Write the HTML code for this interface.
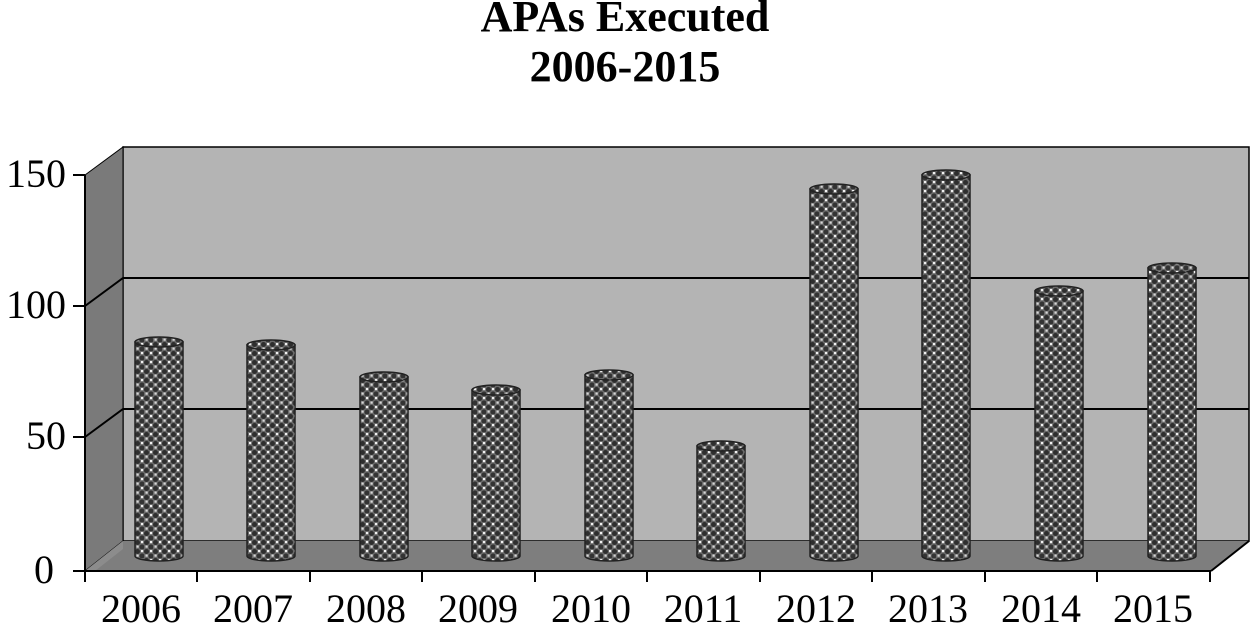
<!DOCTYPE html>
<html><head><style>html,body{margin:0;padding:0;background:#fff}svg{display:block}</style></head>
<body>
<svg width="1250" height="625" viewBox="0 0 1250 625" xmlns="http://www.w3.org/2000/svg" font-family="Liberation Serif, serif">
<defs>
<pattern id="dots" width="9" height="9" patternUnits="userSpaceOnUse">
<rect width="9" height="9" fill="#6a6a6a"/>
<circle cx="2.5" cy="2.5" r="2.5" fill="#2e2e2e"/>
<circle cx="7" cy="7" r="2.5" fill="#333"/>
<rect x="6" y="1" width="2.2" height="2.2" fill="#f0f0f0"/>
<rect x="1.5" y="5.5" width="2.2" height="2.2" fill="#d8d8d8"/>
</pattern>
</defs>
<text x="625" y="31" text-anchor="middle" font-size="44" font-weight="bold">APAs Executed</text>
<text x="625" y="81" text-anchor="middle" font-size="44" font-weight="bold">2006-2015</text>
<rect x="123" y="147" width="1126" height="394" fill="#b4b4b4" stroke="#000" stroke-width="1.5"/>
<polygon points="85,175 123,147 123,541 85,571" fill="#7a7a7a" stroke="#000" stroke-width="1"/>
<polygon points="85,571 123,541 1249,541 1211,571" fill="#7e7e7e"/>
<polygon points="85,571 123,541 123,549 95,571" fill="#8c8c8c"/>
<polyline points="85,306 123,278 1249,278" fill="none" stroke="#000" stroke-width="2"/>
<polyline points="85,437 123,409 1249,409" fill="none" stroke="#000" stroke-width="2"/>
<line x1="1249" y1="541" x2="1211" y2="571" stroke="#000" stroke-width="2"/>
<line x1="85" y1="175" x2="85" y2="571" stroke="#000" stroke-width="2"/>
<line x1="73" y1="571" x2="1211" y2="571" stroke="#000" stroke-width="2"/>
<g stroke="#000" stroke-width="2">
<line x1="73" y1="175" x2="85" y2="175"/><line x1="73" y1="306" x2="85" y2="306"/><line x1="73" y1="437" x2="85" y2="437"/>
<line x1="85" y1="571" x2="85" y2="582"/><line x1="197" y1="571" x2="197" y2="582"/><line x1="310" y1="571" x2="310" y2="582"/><line x1="422" y1="571" x2="422" y2="582"/><line x1="535" y1="571" x2="535" y2="582"/><line x1="647" y1="571" x2="647" y2="582"/><line x1="760" y1="571" x2="760" y2="582"/><line x1="872" y1="571" x2="872" y2="582"/><line x1="985" y1="571" x2="985" y2="582"/><line x1="1097" y1="571" x2="1097" y2="582"/><line x1="1210" y1="571" x2="1210" y2="582"/>
</g>
<g font-size="40" text-anchor="end">
<text x="66" y="187">150</text><text x="66" y="318">100</text><text x="66" y="449">50</text><text x="54" y="583">0</text>
</g>
<g font-size="40" text-anchor="middle">
<text x="141" y="622">2006</text><text x="253" y="622">2007</text><text x="366" y="622">2008</text><text x="478" y="622">2009</text><text x="591" y="622">2010</text><text x="703" y="622">2011</text><text x="816" y="622">2012</text><text x="928" y="622">2013</text><text x="1041" y="622">2014</text><text x="1153" y="622">2015</text>
</g>
<g stroke="#222" stroke-width="1.5">
<path d="M135,342 V556 A24,5 0 0 0 183,556 V342 Z" fill="url(#dots)"/><ellipse cx="159" cy="342" rx="24" ry="5" fill="url(#dots)"/>
<path d="M247,345 V556 A24,5 0 0 0 295,556 V345 Z" fill="url(#dots)"/><ellipse cx="271" cy="345" rx="24" ry="5" fill="url(#dots)"/>
<path d="M360,377 V556 A24,5 0 0 0 408,556 V377 Z" fill="url(#dots)"/><ellipse cx="384" cy="377" rx="24" ry="5" fill="url(#dots)"/>
<path d="M472,390 V556 A24,5 0 0 0 520,556 V390 Z" fill="url(#dots)"/><ellipse cx="496" cy="390" rx="24" ry="5" fill="url(#dots)"/>
<path d="M585,375 V556 A24,5 0 0 0 633,556 V375 Z" fill="url(#dots)"/><ellipse cx="609" cy="375" rx="24" ry="5" fill="url(#dots)"/>
<path d="M697,446 V556 A24,5 0 0 0 745,556 V446 Z" fill="url(#dots)"/><ellipse cx="721" cy="446" rx="24" ry="5" fill="url(#dots)"/>
<path d="M810,189 V556 A24,5 0 0 0 858,556 V189 Z" fill="url(#dots)"/><ellipse cx="834" cy="189" rx="24" ry="5" fill="url(#dots)"/>
<path d="M922,175 V556 A24,5 0 0 0 970,556 V175 Z" fill="url(#dots)"/><ellipse cx="946" cy="175" rx="24" ry="5" fill="url(#dots)"/>
<path d="M1035,291 V556 A24,5 0 0 0 1083,556 V291 Z" fill="url(#dots)"/><ellipse cx="1059" cy="291" rx="24" ry="5" fill="url(#dots)"/>
<path d="M1148,268 V556 A24,5 0 0 0 1196,556 V268 Z" fill="url(#dots)"/><ellipse cx="1172" cy="268" rx="24" ry="5" fill="url(#dots)"/>
</g>
</svg>
</body></html>
